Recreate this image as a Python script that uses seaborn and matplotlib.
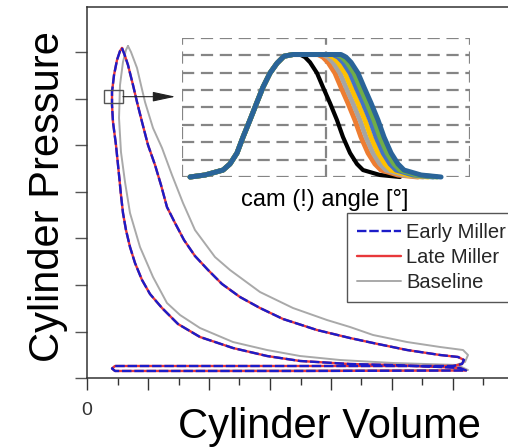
import matplotlib
matplotlib.use("Agg")
import matplotlib.pyplot as plt
import seaborn as sns
import pandas as pd
from matplotlib.patches import Rectangle

# ---------------- data ----------------
early_miller_v = [0.574, 0.623, 0.672, 0.754, 0.820, 0.902, 1.000, 1.115, 1.213, 1.311, 1.443, 1.590,
                  1.770, 1.984, 2.213, 2.508, 2.836, 3.213, 3.770, 4.311, 4.689, 5.246, 5.787, 6.082,
                  6.180, 6.148, 6.000, 3.492, 0.459, 0.410, 0.459, 3.492, 6.213, 6.115, 5.787, 4.967,
                  4.311, 3.492, 2.951, 2.393, 1.852, 1.492, 1.230, 1.033, 0.902, 0.787, 0.705, 0.639,
                  0.590, 0.557, 0.525, 0.475, 0.426, 0.410, 0.410, 0.443, 0.492, 0.541, 0.574]
early_miller_p = [7.097, 6.925, 6.731, 6.301, 5.935, 5.505, 5.011, 4.581, 4.151, 3.677, 3.333, 2.968,
                  2.624, 2.323, 2.022, 1.742, 1.505, 1.269, 1.032, 0.860, 0.753, 0.602, 0.495, 0.452,
                  0.387, 0.301, 0.258, 0.258, 0.258, 0.204, 0.151, 0.151, 0.161, 0.215, 0.237, 0.280,
                  0.301, 0.366, 0.473, 0.645, 0.882, 1.161, 1.505, 1.806, 2.108, 2.473, 2.817, 3.183,
                  3.548, 3.935, 4.366, 5.011, 5.505, 5.871, 6.151, 6.516, 6.839, 7.032, 7.097]
# Late Miller coincides with Early Miller in the picture
late_miller_v = list(early_miller_v)
late_miller_p = list(early_miller_p)

baseline_v = [0.672, 0.721, 0.820, 0.885, 0.951, 1.082, 1.230, 1.393, 1.574, 1.770, 2.098, 2.344,
              2.590, 2.836, 3.377, 3.934, 4.311, 4.689, 5.246, 5.787, 6.164, 6.246, 6.197, 6.000,
              0.459, 0.410, 0.459, 6.246, 6.066, 5.016, 4.148, 3.492, 2.951, 2.393, 1.852, 1.525,
              1.311, 1.082, 0.869, 0.705, 0.623, 0.557, 0.525, 0.541, 0.590, 0.639, 0.672]
baseline_p = [7.140, 7.011, 6.667, 6.301, 5.935, 5.376, 4.946, 4.366, 3.763, 3.183, 2.602, 2.323,
              2.086, 1.849, 1.505, 1.247, 1.097, 0.925, 0.774, 0.667, 0.602, 0.495, 0.344, 0.258,
              0.258, 0.204, 0.151, 0.172, 0.280, 0.323, 0.387, 0.473, 0.602, 0.774, 1.075, 1.355,
              1.613, 2.172, 2.817, 3.548, 4.215, 4.860, 5.591, 6.301, 6.796, 7.054, 7.140]

series_labels = ["Early Miller", "Late Miller", "Baseline"]

# inset: valve lift vs cam angle
rise_angle = [0.056, 0.160, 0.285, 0.333, 0.382, 0.424, 0.472, 0.521, 0.5625, 0.611, 0.660, 0.708, 0.771]
rise_lift = [0.0, 0.115, 0.40, 0.75, 1.38, 2.30, 3.28, 4.31, 5.17, 5.98, 6.55, 6.95, 7.05]
fall_angle = [0.819, 0.854, 0.889, 0.9375, 0.979, 1.028, 1.076, 1.118, 1.167, 1.215, 1.257, 1.375, 1.514]
fall_lift = [7.05, 6.9, 6.6, 5.98, 5.17, 4.25, 3.28, 2.30, 1.38, 0.75, 0.40, 0.115, 0.0]
closing_delay = [0.0, 0.125, 0.16, 0.195, 0.23, 0.257, 0.285]
lift_colors = ["#000000", "#ED7D31", "#A5A5A5", "#FFC000", "#4472C4", "#70AD47", "#2A6499"]

x_major_ticks = [0, 1, 2, 3, 4, 5, 6]
x_tick_labels = ["0", "", "", "", "", "", ""]
x_minor_ticks = [0.5, 1.5, 2.5, 3.5, 4.5, 5.5, 6.5]
y_ticks = [0, 1, 2, 3, 4, 5, 6, 7]

# ---------------- figure ----------------
sns.set_theme(style="white")
plt.rcParams["font.family"] = ["Liberation Sans", "DejaVu Sans"]

W, H = 508, 448
fig = plt.figure(figsize=(W / 100, H / 100), dpi=100)
fig.patch.set_facecolor("white")

ax = fig.add_axes([87 / W, 70 / H, 421 / W, 371 / H])
ax.set_facecolor("white")

em = pd.DataFrame({"v": early_miller_v, "p": early_miller_p})
lm = pd.DataFrame({"v": late_miller_v, "p": late_miller_p})
bl = pd.DataFrame({"v": baseline_v, "p": baseline_p})

sns.lineplot(data=bl, x="v", y="p", sort=False, estimator=None, ax=ax,
             color="#A9A9A9", linewidth=1.4, label=series_labels[2], zorder=2)
sns.lineplot(data=lm, x="v", y="p", sort=False, estimator=None, ax=ax,
             color="#E8383A", linewidth=1.7, label=series_labels[1], zorder=3)
sns.lineplot(data=em, x="v", y="p", sort=False, estimator=None, ax=ax,
             color="#1C1CC8", linewidth=1.7, linestyle=(0, (4, 1.2)), label=series_labels[0], zorder=4)

ax.set_xlim(0, 421 / 61)
ax.set_ylim(0, 371 / 46.5)
ax.set_xlabel("")
ax.set_ylabel("")
ax.set_xticks(x_major_ticks)
ax.set_xticklabels(x_tick_labels)
ax.set_xticks(x_minor_ticks, minor=True)
ax.set_yticks(y_ticks)
ax.set_yticklabels([])
ax.tick_params(axis="x", which="major", direction="out", length=8.6, width=1.0, color="#333333",
               bottom=True, pad=8.5, labelsize=14, labelcolor="#333333")
ax.tick_params(axis="x", which="minor", direction="out", length=5, width=1.0, color="#333333", bottom=True)
ax.tick_params(axis="y", which="major", direction="out", length=8.6, width=1.0, color="#555555", left=True)
for side in ["left", "bottom", "top"]:
    ax.spines[side].set_visible(True)
    ax.spines[side].set_color("#333333")
    ax.spines[side].set_linewidth(1.1)
ax.spines["right"].set_visible(False)
ax.grid(False)

# legend
handles, labels = ax.get_legend_handles_labels()
order = [labels.index(l) for l in series_labels]
leg = ax.legend([handles[i] for i in order], [labels[i] for i in order],
                loc="upper left", bbox_to_anchor=(347 / W, 1 - 213 / H), bbox_transform=fig.transFigure,
                borderaxespad=0, frameon=True, fancybox=False, framealpha=1, edgecolor="#555555",
                fontsize=14.5, handlelength=2.2, handletextpad=0.25, labelspacing=0.3,
                borderpad=0.5)
leg.get_frame().set_linewidth(1.0)

# small box + arrow
box_v0, box_v1, box_p0, box_p1 = 0.279, 0.590, 5.914, 6.194
ax.add_patch(Rectangle((box_v0, box_p0), box_v1 - box_v0, box_p1 - box_p0, fill=False,
                       edgecolor="#555555", linewidth=1.0, zorder=6))
ax.annotate("", xy=(1.45, 6.05), xytext=(box_v1, 6.05),
            arrowprops=dict(arrowstyle="-|>,head_length=1.4,head_width=0.3", color="#222222",
                            lw=0.8, mutation_scale=10, shrinkA=0, shrinkB=0), zorder=6)

# axis titles
fig.text(48 / W, 1 - 197 / H, "Cylinder Pressure", rotation=90, ha="center", va="center",
         fontsize=30, color="black")
fig.text(329 / W, 1 - 438 / H, "Cylinder Volume", ha="center", va="baseline",
         fontsize=30, color="black")

# ---------------- inset ----------------
ins = fig.add_axes([182 / W, (H - 177) / H, 288 / W, 139 / H])
ins.set_facecolor("none")
ins.set_xlim(0, 2)
ins.set_ylim(0, 8)
ins.set_xticks([0, 1, 2])
ins.set_yticks(list(range(9)))
ins.set_xticklabels([])
ins.set_yticklabels([])
ins.tick_params(left=False, bottom=False)
for s in ins.spines.values():
    s.set_visible(False)
ins.grid(True, color="#858585", linestyle=(0, (5.5, 3)), linewidth=1.6)

for delay, col in zip(closing_delay, lift_colors):
    angles = rise_angle + [a + delay for a in fall_angle]
    lifts = rise_lift + fall_lift
    df = pd.DataFrame({"angle": angles, "lift": lifts})
    lw = 3.0 if col == "#000000" else 3.6
    l = sns.lineplot(data=df, x="angle", y="lift", sort=False, estimator=None, ax=ins,
                     color=col, linewidth=lw, legend=False)
    l.lines[-1].set_clip_on(False)
    l.lines[-1].set_solid_capstyle("round")
ins.set_xlabel("")
ins.set_ylabel("")

fig.text(325 / W, 1 - 200 / H, "cam (!) angle [°]", ha="center", va="center", fontsize=17, color="black")

fig.savefig("out.png", dpi=100, facecolor="white")
